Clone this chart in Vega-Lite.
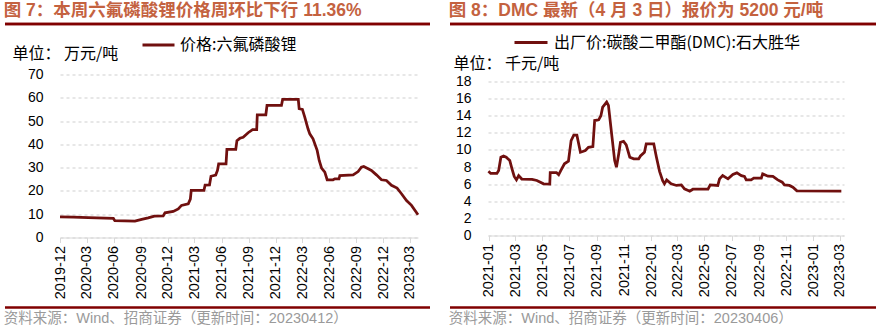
{
  "$schema": "https://vega.github.io/schema/vega-lite/v6.json",
  "padding": {"left": 3, "top": 2, "right": 1, "bottom": 2},
  "autosize": {"type": "pad"},
  "bounds": "flush",
  "columns": 2,
  "spacing": {"row": 59.5, "column": 70},
  "resolve": {"scale": {"x": "independent", "y": "independent", "color": "independent"}, "legend": {"color": "independent"}},
  "config": {"view": {"stroke": null}, "font": "Liberation Sans"},
  "datasets": {
    "frame": [{"a": 0, "b": 1}],
    "lipf6": [
      {"date": "2019-12-01", "value": 8.9},
      {"date": "2020-01-15", "value": 8.7},
      {"date": "2020-03-06", "value": 8.5},
      {"date": "2020-05-30", "value": 8.2},
      {"date": "2020-06-04", "value": 7.2},
      {"date": "2020-08-11", "value": 7.0},
      {"date": "2020-09-03", "value": 7.8},
      {"date": "2020-09-25", "value": 8.4},
      {"date": "2020-10-16", "value": 9.2},
      {"date": "2020-11-15", "value": 9.3},
      {"date": "2020-11-21", "value": 10.6},
      {"date": "2020-12-19", "value": 11.2},
      {"date": "2021-01-05", "value": 12.3},
      {"date": "2021-01-16", "value": 13.8},
      {"date": "2021-02-08", "value": 14.5},
      {"date": "2021-02-15", "value": 16.5},
      {"date": "2021-02-18", "value": 20.2},
      {"date": "2021-04-02", "value": 20.2},
      {"date": "2021-04-06", "value": 22.5},
      {"date": "2021-04-21", "value": 22.6},
      {"date": "2021-04-26", "value": 26.3},
      {"date": "2021-05-12", "value": 26.8},
      {"date": "2021-05-18", "value": 28.8},
      {"date": "2021-05-22", "value": 31.6},
      {"date": "2021-06-16", "value": 31.6},
      {"date": "2021-06-19", "value": 37.8},
      {"date": "2021-07-19", "value": 37.8},
      {"date": "2021-07-23", "value": 41.6},
      {"date": "2021-08-02", "value": 42.6},
      {"date": "2021-08-13", "value": 43.0},
      {"date": "2021-08-30", "value": 45.0},
      {"date": "2021-09-14", "value": 46.3},
      {"date": "2021-09-28", "value": 46.3},
      {"date": "2021-09-30", "value": 52.7},
      {"date": "2021-10-29", "value": 52.7},
      {"date": "2021-11-02", "value": 56.7},
      {"date": "2021-12-21", "value": 56.7},
      {"date": "2021-12-25", "value": 59.3},
      {"date": "2022-02-16", "value": 59.3},
      {"date": "2022-02-19", "value": 55.3},
      {"date": "2022-03-02", "value": 55.0},
      {"date": "2022-03-10", "value": 51.7},
      {"date": "2022-03-21", "value": 46.7},
      {"date": "2022-03-27", "value": 44.5},
      {"date": "2022-04-07", "value": 42.4},
      {"date": "2022-04-21", "value": 37.4},
      {"date": "2022-04-28", "value": 33.1},
      {"date": "2022-05-06", "value": 29.8},
      {"date": "2022-05-17", "value": 28.1},
      {"date": "2022-05-25", "value": 24.8},
      {"date": "2022-06-14", "value": 24.8},
      {"date": "2022-06-20", "value": 25.2},
      {"date": "2022-07-04", "value": 25.2},
      {"date": "2022-07-07", "value": 26.6},
      {"date": "2022-08-21", "value": 26.9},
      {"date": "2022-09-07", "value": 28.3},
      {"date": "2022-09-18", "value": 30.2},
      {"date": "2022-09-26", "value": 30.5},
      {"date": "2022-10-11", "value": 29.5},
      {"date": "2022-10-22", "value": 28.8},
      {"date": "2022-11-08", "value": 26.9},
      {"date": "2022-11-25", "value": 24.8},
      {"date": "2022-12-12", "value": 24.5},
      {"date": "2022-12-29", "value": 22.4},
      {"date": "2023-01-17", "value": 21.2},
      {"date": "2023-02-01", "value": 18.8},
      {"date": "2023-02-18", "value": 15.9},
      {"date": "2023-03-07", "value": 13.8},
      {"date": "2023-03-29", "value": 9.8}
    ],
    "dmc": [
      {"date": "2020-12-31", "value": 7.5},
      {"date": "2021-01-05", "value": 7.25},
      {"date": "2021-01-19", "value": 7.25},
      {"date": "2021-01-23", "value": 7.6},
      {"date": "2021-01-28", "value": 9.15},
      {"date": "2021-02-03", "value": 9.3},
      {"date": "2021-02-09", "value": 9.15},
      {"date": "2021-02-17", "value": 8.76},
      {"date": "2021-02-22", "value": 7.8},
      {"date": "2021-02-27", "value": 6.9},
      {"date": "2021-03-04", "value": 6.5},
      {"date": "2021-03-09", "value": 7.0},
      {"date": "2021-03-16", "value": 6.6},
      {"date": "2021-04-08", "value": 6.55},
      {"date": "2021-04-19", "value": 6.43},
      {"date": "2021-05-04", "value": 6.04},
      {"date": "2021-05-18", "value": 6.0},
      {"date": "2021-05-19", "value": 7.36},
      {"date": "2021-06-02", "value": 7.36},
      {"date": "2021-06-07", "value": 7.1},
      {"date": "2021-06-12", "value": 7.6},
      {"date": "2021-06-20", "value": 8.38},
      {"date": "2021-06-29", "value": 8.69},
      {"date": "2021-07-05", "value": 11.1},
      {"date": "2021-07-11", "value": 11.73},
      {"date": "2021-07-18", "value": 11.73},
      {"date": "2021-07-26", "value": 9.74},
      {"date": "2021-07-31", "value": 9.82},
      {"date": "2021-08-06", "value": 9.94},
      {"date": "2021-08-13", "value": 10.3},
      {"date": "2021-08-23", "value": 10.4},
      {"date": "2021-08-27", "value": 13.44},
      {"date": "2021-09-05", "value": 13.52},
      {"date": "2021-09-10", "value": 14.0},
      {"date": "2021-09-14", "value": 15.0},
      {"date": "2021-09-23", "value": 15.6},
      {"date": "2021-09-27", "value": 15.2},
      {"date": "2021-10-05", "value": 11.5},
      {"date": "2021-10-11", "value": 8.76},
      {"date": "2021-10-15", "value": 7.98},
      {"date": "2021-10-20", "value": 9.5},
      {"date": "2021-10-24", "value": 10.9},
      {"date": "2021-10-31", "value": 11.0},
      {"date": "2021-11-06", "value": 10.6},
      {"date": "2021-11-14", "value": 9.15},
      {"date": "2021-11-23", "value": 8.96},
      {"date": "2021-12-04", "value": 8.96},
      {"date": "2021-12-08", "value": 9.3},
      {"date": "2021-12-17", "value": 9.74},
      {"date": "2021-12-21", "value": 10.7},
      {"date": "2022-01-07", "value": 10.7},
      {"date": "2022-01-13", "value": 9.15},
      {"date": "2022-01-20", "value": 7.5},
      {"date": "2022-01-27", "value": 6.4},
      {"date": "2022-01-31", "value": 6.04},
      {"date": "2022-02-05", "value": 6.5},
      {"date": "2022-02-15", "value": 6.04},
      {"date": "2022-02-27", "value": 5.85},
      {"date": "2022-03-10", "value": 5.92},
      {"date": "2022-03-17", "value": 5.45},
      {"date": "2022-03-29", "value": 5.18},
      {"date": "2022-04-05", "value": 5.41},
      {"date": "2022-05-09", "value": 5.41},
      {"date": "2022-05-14", "value": 5.92},
      {"date": "2022-05-31", "value": 5.85},
      {"date": "2022-06-04", "value": 6.62},
      {"date": "2022-06-11", "value": 7.0},
      {"date": "2022-06-23", "value": 6.62},
      {"date": "2022-07-04", "value": 7.13},
      {"date": "2022-07-13", "value": 7.32},
      {"date": "2022-07-23", "value": 7.0},
      {"date": "2022-07-30", "value": 6.9},
      {"date": "2022-08-03", "value": 6.5},
      {"date": "2022-08-14", "value": 6.5},
      {"date": "2022-08-20", "value": 6.7},
      {"date": "2022-09-06", "value": 6.7},
      {"date": "2022-09-09", "value": 7.2},
      {"date": "2022-09-21", "value": 6.93},
      {"date": "2022-10-02", "value": 6.9},
      {"date": "2022-10-13", "value": 6.5},
      {"date": "2022-10-23", "value": 6.23},
      {"date": "2022-10-28", "value": 5.92},
      {"date": "2022-11-08", "value": 5.85},
      {"date": "2022-11-16", "value": 5.65},
      {"date": "2022-11-25", "value": 5.22},
      {"date": "2023-03-05", "value": 5.2}
    ]
  },
  "concat": [
    {
      "width": 358,
      "height": 1,
      "data": {"name": "frame"},
      "title": {"text": "图 7：本周六氟磷酸锂价格周环比下行 11.36%", "anchor": "start", "frame": "bounds", "offset": -5.5, "fontSize": 17.5, "fontWeight": "bold", "color": "#C4623F", "font": "Liberation Sans, Noto Sans CJK SC"},
      "mark": {"type": "rule", "color": "#800000", "strokeWidth": 2.5, "yOffset": 9.5, "clip": false},
      "encoding": {
        "x": {"field": "a", "type": "quantitative", "scale": {"domain": [0, 1], "range": [-55, 370]}, "axis": null},
        "x2": {"field": "b"}
      }
    },
    {
      "width": 356,
      "height": 1,
      "data": {"name": "frame"},
      "title": {"text": "图 8：DMC 最新（4 月 3 日）报价为 5200 元/吨", "anchor": "start", "frame": "bounds", "offset": -5.5, "fontSize": 17.5, "fontWeight": "bold", "color": "#C4623F", "font": "Liberation Sans, Noto Sans CJK SC"},
      "mark": {"type": "rule", "color": "#800000", "strokeWidth": 2.5, "yOffset": 9.5, "clip": false},
      "encoding": {
        "x": {"field": "a", "type": "quantitative", "scale": {"domain": [0, 1], "range": [-38, 388]}, "axis": null},
        "x2": {"field": "b"}
      }
    },
    {
      "width": 358,
      "height": 163,
      "data": {"name": "lipf6"},
      "mark": {"type": "line", "strokeWidth": 2.75},
      "encoding": {
        "x": {"field": "date", "type": "temporal",
          "scale": {"type": "utc", "domain": [{"year": 2019, "month": 12, "date": 1, "utc": true}, {"year": 2023, "month": 3, "date": 29, "utc": true}]},
          "axis": {
            "values": [
              {"year": 2019, "month": 12, "date": 1, "utc": true},
              {"year": 2020, "month": 3, "date": 1, "utc": true},
              {"year": 2020, "month": 6, "date": 1, "utc": true},
              {"year": 2020, "month": 9, "date": 1, "utc": true},
              {"year": 2020, "month": 12, "date": 1, "utc": true},
              {"year": 2021, "month": 3, "date": 1, "utc": true},
              {"year": 2021, "month": 6, "date": 1, "utc": true},
              {"year": 2021, "month": 9, "date": 1, "utc": true},
              {"year": 2021, "month": 12, "date": 1, "utc": true},
              {"year": 2022, "month": 3, "date": 1, "utc": true},
              {"year": 2022, "month": 6, "date": 1, "utc": true},
              {"year": 2022, "month": 9, "date": 1, "utc": true},
              {"year": 2022, "month": 12, "date": 1, "utc": true},
              {"year": 2023, "month": 3, "date": 1, "utc": true}
            ],
            "format": "%Y-%m", "labelAngle": -90, "labelAlign": "right", "labelBaseline": "middle",
            "labelFont": "Liberation Sans", "labelFontSize": 14.5, "labelColor": "#000000", "labelPadding": 3,
            "labelOverlap": false, "labelBound": false, "labelFlush": false,
            "tickSize": 5, "tickColor": "#D9D9D9", "domainColor": "#D9D9D9", "grid": false, "title": null
          }
        },
        "y": {"field": "value", "type": "quantitative", "scale": {"domain": [0, 70], "nice": false},
          "axis": {
            "values": [0, 10, 20, 30, 40, 50, 60, 70],
            "grid": true, "gridColor": "#CFCFCF", "gridDash": [3, 3], "gridWidth": 1,
            "domain": false, "ticks": false,
            "labelFont": "Liberation Sans", "labelFontSize": 14, "labelColor": "#000000", "labelPadding": 17,
            "title": "单位： 万元/吨", "titleAngle": 0, "titleAlign": "left", "titleBaseline": "middle",
            "titleX": -48, "titleY": -21, "titleFont": "Noto Sans CJK SC", "titleFontSize": 16, "titleFontWeight": "normal", "titleColor": "#000000"
          }
        },
        "color": {"datum": "价格:六氟磷酸锂", "type": "nominal", "scale": {"range": ["#70100F"]},
          "legend": {"orient": "none", "legendX": 81, "legendY": -47, "title": null, "symbolType": "stroke", "symbolSize": 1024, "symbolStrokeWidth": 3,
            "labelFont": "Noto Sans CJK SC", "labelFontSize": 16, "labelColor": "#000000", "labelOffset": 4, "labelLimit": 0, "padding": 0}}
      }
    },
    {
      "width": 356,
      "height": 163,
      "data": {"name": "dmc"},
      "mark": {"type": "line", "strokeWidth": 2.75},
      "encoding": {
        "x": {"field": "date", "type": "temporal",
          "scale": {"type": "utc", "domain": [{"year": 2020, "month": 12, "date": 30, "utc": true}, {"year": 2023, "month": 3, "date": 11, "utc": true}]},
          "axis": {
            "values": [
              {"year": 2021, "month": 1, "date": 1, "utc": true},
              {"year": 2021, "month": 3, "date": 1, "utc": true},
              {"year": 2021, "month": 5, "date": 1, "utc": true},
              {"year": 2021, "month": 7, "date": 1, "utc": true},
              {"year": 2021, "month": 9, "date": 1, "utc": true},
              {"year": 2021, "month": 11, "date": 1, "utc": true},
              {"year": 2022, "month": 1, "date": 1, "utc": true},
              {"year": 2022, "month": 3, "date": 1, "utc": true},
              {"year": 2022, "month": 5, "date": 1, "utc": true},
              {"year": 2022, "month": 7, "date": 1, "utc": true},
              {"year": 2022, "month": 9, "date": 1, "utc": true},
              {"year": 2022, "month": 11, "date": 1, "utc": true},
              {"year": 2023, "month": 1, "date": 1, "utc": true},
              {"year": 2023, "month": 3, "date": 1, "utc": true}
            ],
            "format": "%Y-%m", "labelAngle": -90, "labelAlign": "right", "labelBaseline": "middle",
            "labelFont": "Liberation Sans", "labelFontSize": 14.5, "labelColor": "#000000", "labelPadding": 3,
            "labelOverlap": false, "labelBound": false, "labelFlush": false, "offset": -2,
            "tickSize": 5, "tickColor": "#D9D9D9", "domainColor": "#D9D9D9", "grid": false, "title": null
          }
        },
        "y": {"field": "value", "type": "quantitative", "scale": {"domain": [-0.234, 18.82], "nice": false, "zero": false},
          "axis": {
            "values": [0, 2, 4, 6, 8, 10, 12, 14, 16, 18],
            "grid": true, "gridColor": "#CFCFCF", "gridDash": [3, 3], "gridWidth": 1,
            "domain": false, "ticks": false,
            "labelFont": "Liberation Sans", "labelFontSize": 14, "labelColor": "#000000", "labelPadding": 17,
            "title": "单位： 千元/吨", "titleAngle": 0, "titleAlign": "left", "titleBaseline": "middle",
            "titleX": -35, "titleY": -11, "titleFont": "Noto Sans CJK SC", "titleFontSize": 16, "titleFontWeight": "normal", "titleColor": "#000000"
          }
        },
        "color": {"datum": "出厂价:碳酸二甲酯(DMC):石大胜华", "type": "nominal", "scale": {"range": ["#70100F"]},
          "legend": {"orient": "none", "legendX": 25, "legendY": -50, "title": null, "symbolType": "stroke", "symbolSize": 1089, "symbolStrokeWidth": 3,
            "labelFont": "Noto Sans CJK SC", "labelFontSize": 16, "labelColor": "#000000", "labelOffset": 5, "labelLimit": 0, "padding": 0}}
      }
    },
    {
      "width": 358,
      "height": 1,
      "data": {"name": "frame"},
      "title": {"text": "资料来源：Wind、招商证券（更新时间：20230412）", "orient": "bottom", "anchor": "start", "frame": "bounds", "offset": 3, "fontSize": 14.5, "fontWeight": "normal", "color": "#9A9A9A", "font": "Liberation Sans, Noto Sans CJK SC"},
      "encoding": {
        "x": {"field": "a", "type": "quantitative", "scale": {"domain": [0, 1], "range": [-55, 370]}, "axis": null},
        "x2": {"field": "b"}
      },
      "layer": [
        {"mark": {"type": "rule", "color": "#800000", "strokeWidth": 2.5, "yOffset": 10, "clip": false}},
        {"mark": {"type": "rule", "color": "#800000", "strokeWidth": 2.5, "yOffset": -273.5, "clip": false}}
      ]
    },
    {
      "width": 356,
      "height": 1,
      "data": {"name": "frame"},
      "title": {"text": "资料来源：Wind、招商证券（更新时间：20230406）", "orient": "bottom", "anchor": "start", "frame": "bounds", "offset": 3, "fontSize": 14.5, "fontWeight": "normal", "color": "#9A9A9A", "font": "Liberation Sans, Noto Sans CJK SC"},
      "encoding": {
        "x": {"field": "a", "type": "quantitative", "scale": {"domain": [0, 1], "range": [-38, 388]}, "axis": null},
        "x2": {"field": "b"}
      },
      "layer": [
        {"mark": {"type": "rule", "color": "#800000", "strokeWidth": 2.5, "yOffset": 10, "clip": false}},
        {"mark": {"type": "rule", "color": "#800000", "strokeWidth": 2.5, "yOffset": -273.5, "clip": false}}
      ]
    }
  ]
}
